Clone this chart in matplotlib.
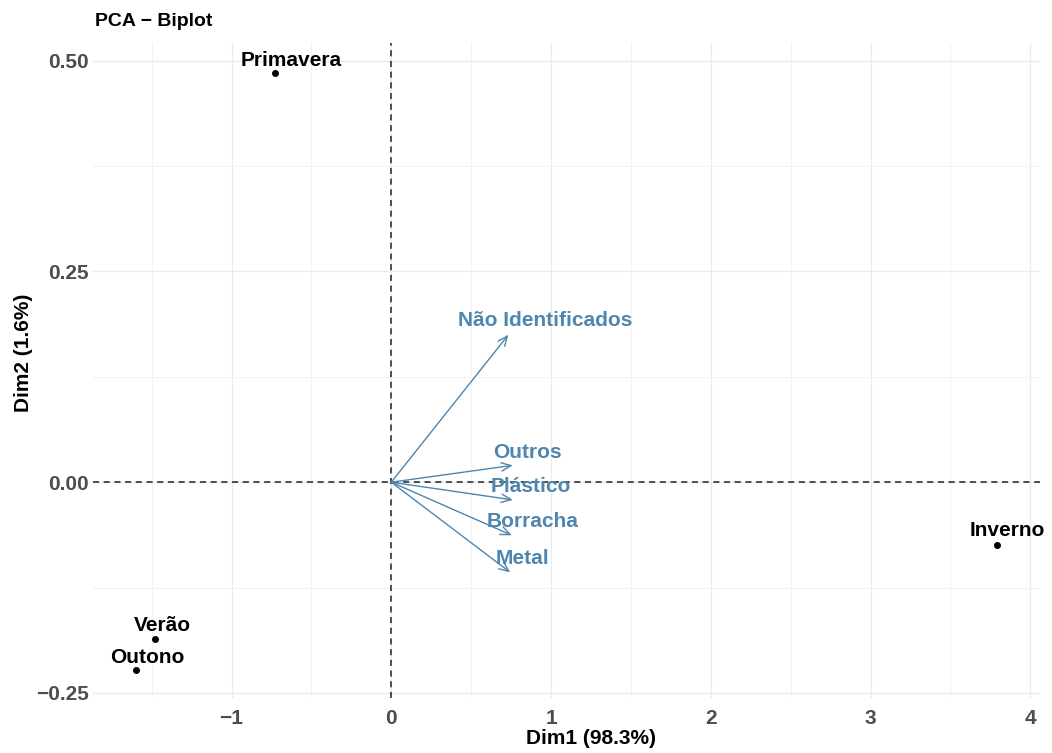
import matplotlib
matplotlib.use("Agg")
import matplotlib.pyplot as plt
from matplotlib.ticker import MultipleLocator

plt.rcParams['font.family'] = ['Liberation Sans', 'DejaVu Sans']
plt.rcParams['font.weight'] = 'bold'

# individuals (seasons)
seasons = ['Primavera', 'Verão', 'Outono', 'Inverno']
ind_x = [-0.726, -1.477, -1.596, 3.79]
ind_y = [0.485, -0.186, -0.223, -0.074]

# variables (arrows)
variables = ['Não Identificados', 'Outros', 'Plástico', 'Borracha', 'Metal']
var_x = [0.734, 0.761, 0.761, 0.755, 0.745]
var_y = [0.175, 0.020, -0.021, -0.063, -0.107]

# label offsets in pixels (ggrepel-like placement)
ind_off = [(16, 13), (7, 13), (11, 13), (11, 14)]
var_off = [(37, 14), (15, 13), (18, 13), (21, 14), (12, 14)]

var_col = '#4f86ae'

fig = plt.figure(figsize=(10.52, 7.53), dpi=100)
ax = fig.add_axes([93/1052, 1-698/753, 947/1052, 655/753])

ax.set_xlim(-1.867, 4.061)
ax.set_ylim(-0.256, 0.521)

ax.xaxis.set_major_locator(MultipleLocator(1))
ax.xaxis.set_minor_locator(MultipleLocator(0.5))
ax.yaxis.set_major_locator(MultipleLocator(0.25))
ax.yaxis.set_minor_locator(MultipleLocator(0.125))
ax.yaxis.set_major_formatter(lambda v, p: f'{v:.2f}'.replace('-', '\u2212'))
ax.xaxis.set_major_formatter(lambda v, p: f'{v:.0f}'.replace('-', '\u2212'))

ax.grid(which='major', color='#ebebeb', linewidth=1.0)
ax.grid(which='minor', color='#f2f2f2', linewidth=0.8)
ax.set_axisbelow(True)
for s in ax.spines.values():
    s.set_visible(False)
ax.tick_params(which='both', length=0)
ax.tick_params(axis='x', pad=8, labelsize=15, labelcolor='#4d4d4d')
ax.tick_params(axis='y', pad=3, labelsize=15, labelcolor='#4d4d4d')

ax.axhline(0, color='#222222', linestyle=(0, (4, 3)), linewidth=1.1, zorder=1)
ax.axvline(0, color='#222222', linestyle=(0, (4, 3)), linewidth=1.1, zorder=1)

# points
ax.plot(ind_x, ind_y, 'o', color='black', markersize=4, zorder=3)
for name, x, y, (dx, dy) in zip(seasons, ind_x, ind_y, ind_off):
    ax.annotate(name, (x, y), xytext=(dx, dy), textcoords='offset pixels',
                ha='center', va='center', fontsize=15, fontweight='bold', color='black')

# arrows
for name, x, y, (dx, dy) in zip(variables, var_x, var_y, var_off):
    ax.annotate('', xy=(x, y), xytext=(0, 0),
                arrowprops=dict(arrowstyle='->,head_length=0.7,head_width=0.3',
                                color=var_col, linewidth=1.0, shrinkA=0, shrinkB=0))
    ax.annotate(name, (x, y), xytext=(dx, dy), textcoords='offset pixels',
                ha='center', va='center', fontsize=15, fontweight='bold', color=var_col)

ax.set_xlabel('Dim1 (98.3%)', fontsize=15, fontweight='bold')
ax.set_ylabel('Dim2 (1.6%)', fontsize=15, fontweight='bold')
ax.xaxis.set_label_coords(0.526, -0.047)
ax.yaxis.set_label_coords(-0.063, 0.527)

fig.text(95/1052, 1-22/753, 'PCA \u2212 Biplot', fontsize=14, fontweight='bold',
         ha='left', va='center')

fig.savefig('out.png', dpi=100, facecolor='white')
